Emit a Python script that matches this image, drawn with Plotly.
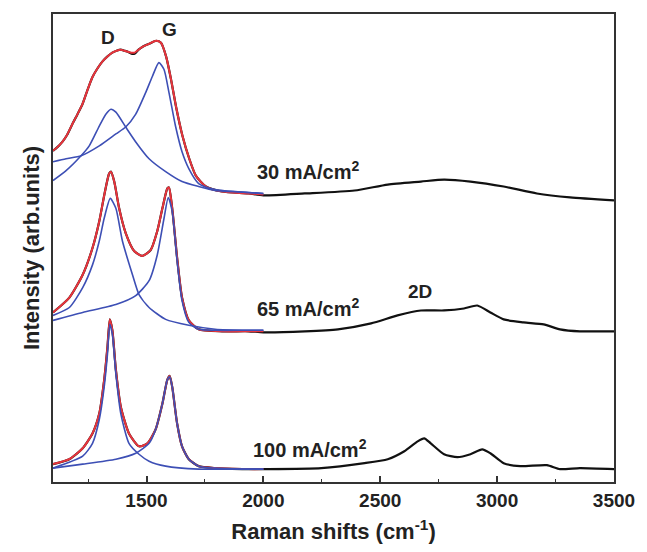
import plotly.graph_objects as go

# ---------------- data ----------------
# 30 mA/cm2 : measured spectrum
x30 = [1100, 1120, 1140, 1160, 1185, 1205, 1226, 1247, 1268, 1290, 1311, 1332, 1354, 1372, 1390,
       1405, 1420, 1435, 1449, 1466, 1484, 1512, 1541, 1562,
       1584, 1605, 1626, 1654, 1683, 1711, 1754, 1823, 1936, 2000, 2177, 2390, 2532, 2674,
       2773, 2886, 3028, 3170, 3312, 3500]
y30 = [334, 338, 343, 350, 362, 371, 381, 395, 408, 417, 424, 429, 433, 435, 436,
       435, 434, 432, 432, 436, 439, 442, 445, 443,
       429, 406, 379, 349, 326, 309, 298, 293, 291, 289, 291, 294, 300, 303,
       305, 303, 298, 291, 287, 284]
# 30 mA/cm2 : fit (red) and components (blue)
xf30 = [1100, 1120, 1140, 1160, 1185, 1205, 1226, 1247, 1268, 1290, 1311, 1332, 1354, 1372, 1390,
        1405, 1420, 1435, 1449, 1466, 1484, 1512, 1541, 1562,
        1584, 1605, 1626, 1654, 1683, 1711, 1754, 1823, 1936, 2000]
yf30 = [334, 338, 343, 350, 362, 371, 381, 395, 408, 417, 424, 429, 433, 435, 436,
        435, 434, 433, 433, 436, 439, 442, 445, 443,
        429, 406, 379, 349, 326, 309, 298, 293, 291, 290]
xd30 = [1100, 1156, 1220, 1255, 1298, 1326, 1348, 1369, 1411, 1454, 1511, 1582, 1652, 1723, 1794, 1936, 2000]
yd30 = [304, 314, 329, 339, 359, 371, 376, 373, 358, 343, 326, 313, 303, 298, 294, 292, 291]
xg30 = [1100, 1156, 1220, 1298, 1369, 1411, 1454, 1497, 1525, 1553, 1575, 1596, 1624, 1652, 1681, 1723, 1794, 1936, 2000]
yg30 = [323, 326, 329, 339, 351, 358, 371, 393, 409, 423, 416, 393, 359, 333, 316, 301, 295, 292, 291]

# 65 mA/cm2 : measured spectrum
x65 = [1100, 1170, 1227, 1269, 1298, 1319, 1340, 1348, 1362, 1383, 1411, 1447, 1482, 1518,
       1546, 1568, 1589, 1596, 1610, 1631, 1652, 1681, 1723, 1823, 1936, 2000, 2177, 2319,
       2461, 2574, 2674, 2773, 2858, 2915, 2971, 3028, 3113, 3199, 3269, 3354, 3500]
y65 = [171, 186, 209, 236, 263, 289, 311, 313, 303, 276, 251, 233, 228, 234,
       253, 276, 296, 297, 276, 226, 186, 163, 154, 152, 152, 151, 152, 154,
       160, 168, 173, 173, 175, 178, 171, 164, 161, 159, 154, 152, 152]
xf65 = [1100, 1170, 1227, 1269, 1298, 1319, 1340, 1348, 1362, 1383, 1411, 1447, 1482, 1518,
        1546, 1568, 1589, 1596, 1610, 1631, 1652, 1681, 1723, 1823, 1936, 2000]
yf65 = [171, 186, 209, 236, 263, 289, 311, 313, 303, 276, 251, 233, 228, 234,
        253, 276, 296, 297, 276, 226, 186, 163, 154, 152, 152, 152]
xd65 = [1100, 1170, 1227, 1269, 1298, 1319, 1345, 1369, 1397, 1440, 1468, 1511, 1582, 1681, 1794, 1936, 2000]
yd65 = [168, 176, 196, 219, 243, 266, 286, 276, 243, 209, 189, 176, 164, 158, 154, 153, 153]
xg65 = [1100, 1227, 1369, 1454, 1511, 1546, 1575, 1593, 1610, 1631, 1652, 1681, 1723, 1794, 1936, 2000]
yg65 = [163, 171, 179, 188, 203, 229, 266, 287, 273, 223, 183, 161, 154, 153, 153, 153]

# 100 mA/cm2 : measured spectrum
x100 = [1100, 1170, 1227, 1269, 1298, 1319, 1333, 1343, 1354, 1369, 1390, 1425, 1468, 1504,
        1539, 1568, 1589, 1599, 1610, 1631, 1652, 1681, 1723, 1794, 1936, 2007, 2248, 2433,
        2532, 2603, 2660, 2688, 2716, 2773, 2830, 2886, 2936, 2971, 3028, 3099, 3213, 3269,
        3354, 3500]
y100 = [18, 23, 34, 49, 69, 103, 136, 164, 153, 113, 76, 49, 36, 39,
        53, 79, 103, 107, 96, 59, 36, 23, 16, 14, 13, 13, 14, 19,
        23, 31, 41, 44, 39, 28, 25, 28, 33, 29, 19, 16, 17, 13,
        14, 13]
xf100 = [1100, 1170, 1227, 1269, 1298, 1319, 1333, 1343, 1354, 1369, 1390, 1425, 1468, 1504,
         1539, 1568, 1589, 1599, 1610, 1631, 1652, 1681, 1723, 1794, 1936, 2000]
yf100 = [18, 23, 34, 49, 69, 103, 136, 164, 153, 113, 76, 49, 36, 39,
         53, 79, 103, 107, 96, 59, 36, 23, 16, 14, 13, 13]
xd100 = [1100, 1227, 1269, 1298, 1319, 1333, 1343, 1354, 1369, 1390, 1425, 1468, 1511, 1582, 1723, 1936, 2000]
yd100 = [14, 26, 39, 63, 96, 129, 159, 149, 109, 69, 39, 28, 21, 16, 13, 13, 13]
xg100 = [1100, 1227, 1369, 1454, 1511, 1539, 1568, 1589, 1599, 1610, 1631, 1652, 1681, 1723, 1794, 1936, 2000]
yg100 = [14, 18, 23, 29, 39, 53, 79, 103, 106, 96, 59, 36, 23, 16, 14, 13, 13]

labels = ["30 mA/cm<sup>2</sup>", "65 mA/cm<sup>2</sup>", "100 mA/cm<sup>2</sup>"]
label_x = [1966, 1966, 1949]
label_y = [314, 176, 34]
peak_names = ["D", "G", "2D"]
peak_x = [1334, 1598, 2672]
peak_y = [448, 456, 192]

x_ticks = [1500, 2000, 2500, 3000, 3500]

# ---------------- figure ----------------
BLACK = "#111111"
RED = "#e8343c"
BLUE = "#3d4fb5"
FONT = "Liberation Sans, Arial, sans-serif"
TXT = "#222222"

def bold(size):
    return dict(family=FONT, size=size, color=TXT, weight="bold")

fig = go.Figure()

def add(x, y, color, width):
    fig.add_trace(go.Scatter(x=x, y=y, mode="lines",
                             line=dict(color=color, width=width, shape="spline", smoothing=0.6),
                             showlegend=False, hoverinfo="skip"))

for xs, ys in [(x30, y30), (x65, y65), (x100, y100)]:
    add(xs, ys, BLACK, 2.2)
for xs, ys in [(xf30, yf30), (xf65, yf65), (xf100, yf100)]:
    add(xs, ys, RED, 2.0)
for xs, ys in [(xd30, yd30), (xg30, yg30), (xd65, yd65), (xg65, yg65), (xd100, yd100), (xg100, yg100)]:
    add(xs, ys, BLUE, 1.6)

for t, xx, yy in zip(labels, label_x, label_y):
    fig.add_annotation(x=xx, y=yy, text=t, showarrow=False, xanchor="left", yanchor="middle",
                       font=bold(20))
for t, xx, yy in zip(peak_names, peak_x, peak_y):
    fig.add_annotation(x=xx, y=yy, text=t, showarrow=False, xanchor="center", yanchor="middle",
                       font=bold(19))

fig.update_layout(
    width=647, height=552,
    margin=dict(l=53, r=30, t=14, b=66),
    paper_bgcolor="white", plot_bgcolor="white",
    font=bold(19),
    xaxis=dict(
        range=[1100, 3500], tickvals=x_ticks, ticktext=[str(v) for v in x_ticks],
        ticks="inside", ticklen=6, tickwidth=1.5, tickcolor="#333333",
        minor=dict(dtick=250, tick0=1250, ticks="inside", ticklen=3, tickwidth=1.2, tickcolor="#333333"),
        showline=True, linecolor="#333333", linewidth=1.6, mirror=True,
        showgrid=False, zeroline=False,
        tickfont=bold(19),
        title=dict(text="Raman shifts (cm<sup>-1</sup>)", standoff=14, font=bold(22)),
    ),
    yaxis=dict(
        range=[0, 472], showticklabels=False, ticks="",
        showline=True, linecolor="#333333", linewidth=1.6, mirror=True,
        showgrid=False, zeroline=False,
        title=dict(text="Intensity (arb.units)", standoff=6, font=bold(22)),
    ),
)

fig.write_html("out.html")
